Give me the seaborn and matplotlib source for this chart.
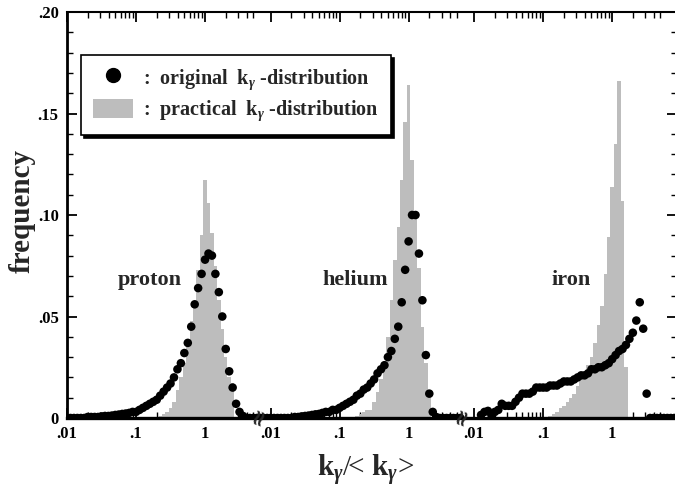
import numpy as np
import matplotlib
matplotlib.use("Agg")
import matplotlib.pyplot as plt
import seaborn as sns
from matplotlib.lines import Line2D
from matplotlib.patches import Patch

sns.set_theme(style="white")
plt.rcParams['font.family'] = ['Liberation Serif', 'DejaVu Serif']
plt.rcParams['font.weight'] = 'bold'
plt.rcParams['mathtext.fontset'] = 'custom'
plt.rcParams['mathtext.rm'] = 'Liberation Serif:bold'
plt.rcParams['mathtext.it'] = 'Liberation Serif:italic:bold'
plt.rcParams['mathtext.bf'] = 'Liberation Serif:bold'

# ---------------- data ----------------
GROUPS = ["proton", "helium", "iron"]

# original k_gamma distribution (dots): log10(k/<k>) and frequency
PROTON_DOT_LOGK = [-2.15, -2.10, -2.05, -2.00, -1.95, -1.90, -1.85, -1.80, -1.75, -1.70, -1.65, -1.60,
                   -1.55, -1.50, -1.45, -1.40, -1.35, -1.30, -1.25, -1.20, -1.15, -1.10, -1.05, -1.00,
                   -0.95, -0.90, -0.85, -0.80, -0.75, -0.70, -0.65, -0.60, -0.55, -0.50, -0.45, -0.40,
                   -0.35, -0.30, -0.25, -0.20, -0.15, -0.10, -0.05, 0.00, 0.05, 0.10, 0.15, 0.20,
                   0.25, 0.30, 0.35, 0.40, 0.45, 0.50, 0.55, 0.60, 0.65, 0.70, 0.75]
PROTON_DOT_FREQ = [0.0, 0.0, 0.0, 0.0, 0.0, 0.0, 0.0, 0.0, 0.0, 0.0005, 0.0005, 0.0005,
                   0.0005, 0.0008, 0.001, 0.001, 0.0012, 0.0015, 0.0017, 0.002, 0.0022, 0.0025, 0.003, 0.003,
                   0.004, 0.005, 0.006, 0.007, 0.008, 0.009, 0.011, 0.013, 0.015, 0.017, 0.020, 0.024,
                   0.027, 0.032, 0.037, 0.045, 0.056, 0.064, 0.071, 0.078, 0.081, 0.080, 0.071, 0.062,
                   0.050, 0.034, 0.023, 0.015, 0.007, 0.003, 0.001, 0.0, 0.0, 0.0, 0.0]

HELIUM_DOT_LOGK = PROTON_DOT_LOGK
HELIUM_DOT_FREQ = [0.0, 0.0, 0.0, 0.0, 0.0, 0.0, 0.0, 0.0, 0.0, 0.0, 0.0005, 0.0005,
                   0.0008, 0.001, 0.0012, 0.0015, 0.0018, 0.002, 0.0025, 0.003, 0.003, 0.004, 0.004, 0.005,
                   0.006, 0.007, 0.008, 0.009, 0.011, 0.012, 0.014, 0.015, 0.017, 0.019, 0.022, 0.024,
                   0.026, 0.030, 0.033, 0.039, 0.045, 0.057, 0.073, 0.087, 0.100, 0.100, 0.081, 0.058,
                   0.031, 0.012, 0.003, 0.0005, 0.0, 0.0, 0.0, 0.0, 0.0, 0.0, 0.0]

IRON_DOT_LOGK = [-1.90, -1.85, -1.80, -1.75, -1.70, -1.65, -1.60, -1.55, -1.50, -1.45, -1.40, -1.35,
                 -1.30, -1.25, -1.20, -1.15, -1.10, -1.05, -1.00, -0.95, -0.90, -0.85, -0.80, -0.75,
                 -0.70, -0.65, -0.60, -0.55, -0.50, -0.45, -0.40, -0.35, -0.30, -0.25, -0.20, -0.15,
                 -0.10, -0.05, 0.00, 0.05, 0.10, 0.15, 0.20, 0.25, 0.30, 0.35, 0.40, 0.45,
                 0.50, 0.55, 0.60, 0.65, 0.70, 0.75, 0.80, 0.85, 0.90, 0.95]
IRON_DOT_FREQ = [0.0015, 0.003, 0.0035, 0.0015, 0.003, 0.004, 0.007, 0.006, 0.006, 0.006, 0.008, 0.010,
                 0.012, 0.012, 0.012, 0.013, 0.015, 0.015, 0.015, 0.015, 0.016, 0.016, 0.016, 0.017,
                 0.018, 0.018, 0.018, 0.019, 0.020, 0.021, 0.021, 0.022, 0.024, 0.024, 0.025, 0.025,
                 0.026, 0.027, 0.029, 0.031, 0.033, 0.034, 0.036, 0.039, 0.042, 0.048, 0.057, 0.044,
                 0.012, 0.0, 0.0, 0.0, 0.0, 0.0, 0.0, 0.0, 0.0, 0.0]

# practical k_gamma distribution (bars)
PROTON_BAR_LOGK = [-0.65, -0.60, -0.55, -0.50, -0.45, -0.40, -0.35, -0.30, -0.25, -0.20, -0.15,
                   -0.10, -0.05, 0.00, 0.05, 0.10, 0.15, 0.20, 0.25, 0.30, 0.35, 0.40]
PROTON_BAR_FREQ = [0.001, 0.002, 0.003, 0.005, 0.008, 0.014, 0.020, 0.027, 0.037, 0.048, 0.057,
                   0.073, 0.090, 0.117, 0.106, 0.091, 0.075, 0.058, 0.044, 0.030, 0.020, 0.017]

HELIUM_BAR_LOGK = [-0.75, -0.70, -0.65, -0.60, -0.55, -0.50, -0.45, -0.40, -0.35, -0.30, -0.25,
                   -0.20, -0.15, -0.10, -0.05, 0.00, 0.05, 0.10, 0.15, 0.20, 0.25, 0.30]
HELIUM_BAR_FREQ = [0.001, 0.002, 0.003, 0.004, 0.004, 0.008, 0.013, 0.019, 0.027, 0.040, 0.058,
                   0.078, 0.094, 0.117, 0.146, 0.164, 0.127, 0.101, 0.074, 0.045, 0.027, 0.012]

IRON_BAR_LOGK = [-0.90, -0.85, -0.80, -0.75, -0.70, -0.65, -0.60, -0.55, -0.50, -0.45, -0.40, -0.35,
                 -0.30, -0.25, -0.20, -0.15, -0.10, -0.05, 0.00, 0.05, 0.10, 0.15, 0.20]
IRON_BAR_FREQ = [0.001, 0.002, 0.003, 0.005, 0.006, 0.008, 0.010, 0.012, 0.016, 0.019, 0.022, 0.026,
                 0.030, 0.037, 0.046, 0.055, 0.071, 0.089, 0.114, 0.135, 0.166, 0.107, 0.025]

X_TICK_LABELS = [".01", ".1", "1"]
Y_TICKS = [0.0, 0.05, 0.10, 0.15, 0.20]
Y_TICK_LABELS = ["0", ".05", ".10", ".15", ".20"]

DOTS = [(PROTON_DOT_LOGK, PROTON_DOT_FREQ), (HELIUM_DOT_LOGK, HELIUM_DOT_FREQ), (IRON_DOT_LOGK, IRON_DOT_FREQ)]
BARS = [(PROTON_BAR_LOGK, PROTON_BAR_FREQ), (HELIUM_BAR_LOGK, HELIUM_BAR_FREQ), (IRON_BAR_LOGK, IRON_BAR_FREQ)]

# ---------------- layout ----------------
SHIFT = 2.95          # decades between panel origins
BIN_W = 0.05
GRAY = "#bdbdbd"
LABEL_LOGK = [-0.80, -0.78, -0.60]
LABEL_Y = 0.068

fig = plt.figure(figsize=(6.75, 4.92), dpi=100)
ax = fig.add_axes([0.0993, 0.1504, 0.9037, 0.8252])

for g, name in enumerate(GROUPS):
    off = 2 + g * SHIFT
    blogk, bfreq = BARS[g]
    ax.bar(np.array(blogk) + off, bfreq, width=BIN_W, color=GRAY, linewidth=0, zorder=1)
    dlogk, dfreq = DOTS[g]
    sns.scatterplot(x=np.array(dlogk) + off, y=dfreq, ax=ax, color="black", s=38,
                    edgecolor="none", linewidth=0, zorder=3, legend=False)
    ax.text(LABEL_LOGK[g] + off, LABEL_Y, name, fontsize=16, fontweight="bold",
            ha="center", va="center")
    if g > 0:
        ax.text(off - 2 - 0.18, 0.001, "≈", rotation=70, fontsize=16, ha="center", va="center",
                zorder=6, clip_on=False, family=["DejaVu Sans"])

ax.set_xlim(0, 8.84)
ax.set_ylim(0, 0.20)

major = []
minor = []
for g in range(3):
    base = g * SHIFT
    for d in range(3):
        major.append(base + d)
        for m in range(2, 10):
            v = d + np.log10(m)
            if v < 2.76:
                minor.append(base + v)
ax.set_xticks(major)
ax.set_xticklabels(X_TICK_LABELS * 3)
ax.set_xticks(minor, minor=True)
ax.set_yticks(Y_TICKS)
ax.set_yticklabels(Y_TICK_LABELS)
ax.set_yticks(np.arange(0, 0.2001, 0.01), minor=True)

ax.tick_params(which="both", direction="in", top=True, right=True, bottom=True, left=True,
               labelsize=12, colors="black", pad=6)
ax.tick_params(which="major", length=7, width=1.3)
ax.tick_params(which="minor", length=4, width=1.0)
for lab in ax.get_xticklabels() + ax.get_yticklabels():
    lab.set_fontweight("bold")

for side, lw in [("left", 2.0), ("bottom", 2.4), ("top", 1.5), ("right", 1.5)]:
    ax.spines[side].set_linewidth(lw)
    ax.spines[side].set_color("black")

ax.set_ylabel("frequency", fontsize=21, fontweight="bold")
ax.yaxis.set_label_coords(-0.052, 0.51)
ax.set_xlabel(r"$\mathrm{k}_{\gamma}$/< $\mathrm{k}_{\gamma}$>", fontsize=21)
ax.xaxis.set_label_coords(0.49, -0.085)

handles = [Line2D([], [], marker="o", ls="", color="black", markersize=10),
           Patch(facecolor=GRAY, edgecolor="none")]
labels = [r":  original  $\mathrm{k}_{\gamma}$ -distribution",
          r":  practical  $\mathrm{k}_{\gamma}$ -distribution"]
leg = ax.legend(handles, labels, loc="upper left", bbox_to_anchor=(0.023, 0.894),
                borderaxespad=0.0,
                frameon=True, fancybox=False, edgecolor="black", framealpha=1,
                shadow={"color": "black", "alpha": 1},
                prop={"weight": "bold", "size": 14.5}, handlelength=2.0, handleheight=1.1,
                handletextpad=0.5, borderpad=0.6, labelspacing=0.35)
leg.get_frame().set_linewidth(1.2)

fig.savefig("out.png", dpi=100)
